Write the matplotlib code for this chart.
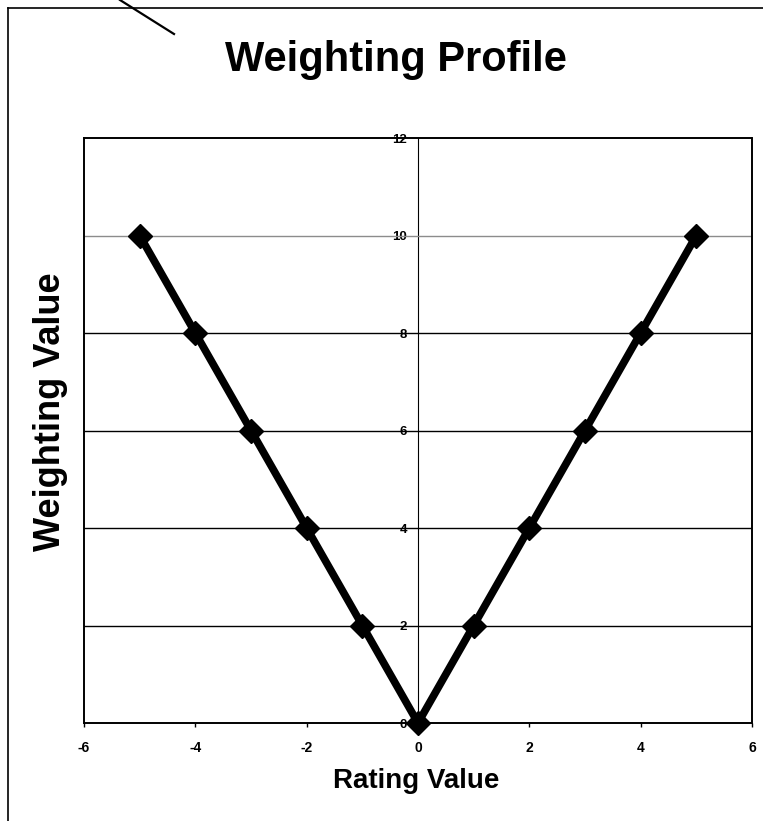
import matplotlib.pyplot as plt
from matplotlib.lines import Line2D

plt.rcParams['font.family'] = ['Liberation Sans', 'DejaVu Sans']
plt.rcParams['axes.unicode_minus'] = False

rating = [-5, -4, -3, -2, -1, 0, 1, 2, 3, 4, 5]
weight = [10, 8, 6, 4, 2, 0, 2, 4, 6, 8, 10]
xticks = [-6, -4, -2, 0, 2, 4, 6]
yticks = [0, 2, 4, 6, 8, 10, 12]

W, H = 763, 821
fig = plt.figure(figsize=(W / 100, H / 100), dpi=100)
ax = fig.add_axes([84 / W, 1 - 723 / H, 668 / W, 585 / H])

# outer frame (cropped) and the stray diagonal stroke
fig.add_artist(Line2D([8 / W, 8 / W], [0, 1 - 8 / H], transform=fig.transFigure, color='black', lw=1.2))
fig.add_artist(Line2D([8 / W, 1], [1 - 8 / H, 1 - 8 / H], transform=fig.transFigure, color='black', lw=1.2))
fig.add_artist(Line2D([120 / W, 174 / W], [1, 1 - 34 / H], transform=fig.transFigure, color='black', lw=1.6))

ax.plot(rating, weight, color='black', lw=5.5, marker='D', markersize=12, zorder=5, clip_on=False)

ax.set_xlim(-6, 6)
ax.set_ylim(0, 12)
ax.set_xticks(xticks)
ax.set_yticks(yticks)
ax.tick_params(axis='x', length=3, width=1, pad=10, labelsize=10)
ax.tick_params(axis='y', left=False, labelleft=False)
for lab in ax.get_xticklabels():
    lab.set_fontweight('bold')

ax.yaxis.grid(True, color='black', lw=1)
gl = ax.yaxis.get_gridlines()
gl[0].set_visible(False)
gl[-1].set_visible(False)
gl[5].set_color('#8c8c8c')

for s in ax.spines.values():
    s.set_linestyle((0, (1, 1)))
    s.set_linewidth(1.4)

sec = ax.secondary_yaxis(0.5)
sec.set_yticks(yticks)
sec.yaxis.tick_left()
sec.spines['left'].set_linewidth(1.2)
sec.tick_params(length=0, pad=8, labelsize=9.5)
for lab in sec.get_yticklabels():
    lab.set_fontweight('bold')

fig.text(396 / W, 1 - 60 / H, 'Weighting Profile', ha='center', va='center', fontsize=30, fontweight='bold')
fig.text(416 / W, 1 - 781 / H, 'Rating Value', ha='center', va='center', fontsize=20, fontweight='bold')
fig.text(50 / W, 1 - 412 / H, 'Weighting Value', ha='center', va='center', rotation=90, fontsize=26, fontweight='bold')

fig.savefig('out.png', dpi=100)
